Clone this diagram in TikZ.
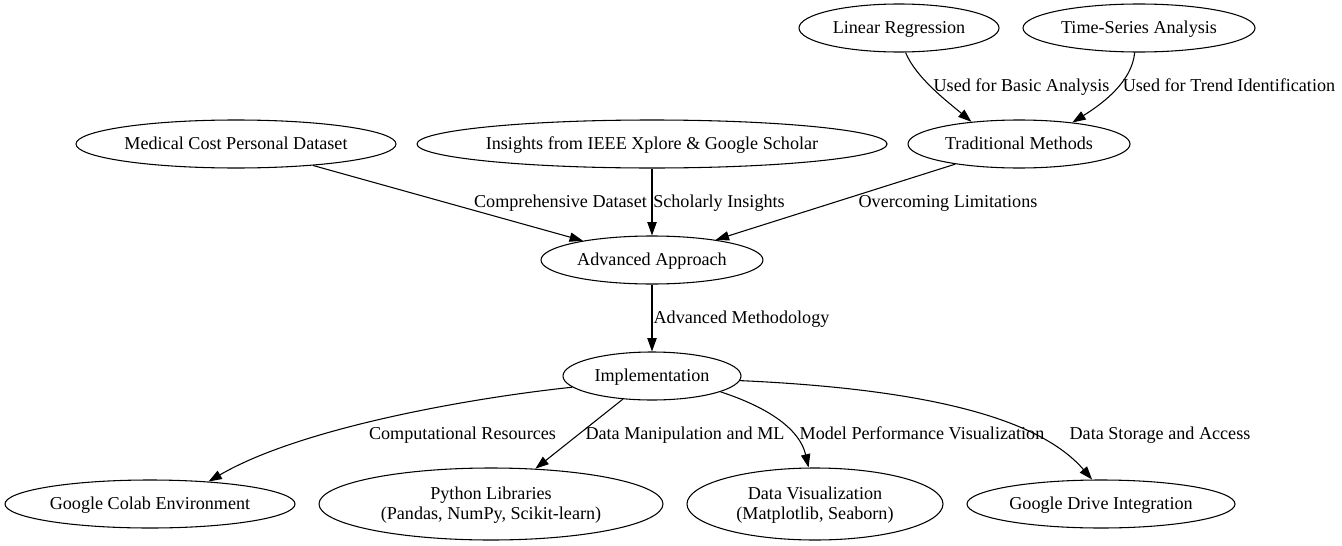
\documentclass[tikz,border=0pt]{standalone}
\usepackage{fontspec}
\setmainfont{Liberation Serif}
\usetikzlibrary{positioning, arrows.meta, shapes.geometric}

\begin{document}
\begin{tikzpicture}[
    % GLOBAL CFG
    x=0.75pt, y=0.75pt,
    font=\fontsize{13.6}{15}\selectfont,
    >={Triangle[length=10pt,width=7pt]},
    % Styles
    topic/.style={% For the ellipses
        ellipse,
        draw,
        line width=0.8pt,
        inner sep=0pt,
        text height=10.25pt,
        text depth=2.25pt,
        minimum height=36pt,
        align=center,
        },
    twoline/.style={% For ellipses with two lines
        topic,
        text height=25.25pt,
        minimum height=54pt,
        },
    edgelabel/.style={% Texts on the links
        inner sep=0pt,
        text height=10.25pt,
        text depth=2.25pt,
        },
    link/.style={% Links between topics
        ->,
        line width=0.8pt,
        },
    ]

    \path[use as bounding box] (0,0) rectangle (1342,-546);

    % Top row
    \node [topic, minimum width=150pt] (lin) at (899,-28) {Linear Regression};
    \node [topic, minimum width=174pt] (tsa) at (1139,-28) {Time-Series Analysis};

    % Sources
    \node [topic, minimum width=240pt] (med) at (236,-144) {Medical Cost Personal Dataset};
    \node [topic, minimum width=348pt] (ins) at (652,-144) {Insights from IEEE Xplore \& Google Scholar};
    \node [topic, minimum width=166.5pt] (trad) at (1019,-144) {Traditional Methods};

    % Middle
    \node [topic, minimum width=166.5pt] (adv) at (652,-260) {Advanced Approach};
    \node [topic, minimum width=133.5pt] (impl) at (652,-376) {Implementation};

    % Tools
    \node [topic, minimum width=217.5pt] (colab) at (150,-504) {Google Colab Environment};
    \node [twoline, minimum width=258pt] (py) at (491,-504) {Python Libraries\\(Pandas, NumPy, Scikit-learn)};
    \node [twoline, minimum width=192pt] (viz) at (815,-504) {Data Visualization\\(Matplotlib, Seaborn)};
    \node [topic, minimum width=201pt] (drive) at (1101,-504) {Google Drive Integration};

    % Links
    \draw [link] (lin.-75) .. controls (916,-78) and (948,-102) .. (trad.155);
    \draw [link] (tsa.-100) .. controls (1132,-82) and (1102,-104) .. (trad.22);
    \draw [link] (med) -- (adv);
    \draw [link] (ins) -- (adv);
    \draw [link] (trad) -- (adv);
    \draw [link] (adv) -- (impl);
    \draw [link] (impl.188) .. controls (470,-398) and (300,-428) .. (colab.21);
    \draw [link] (impl) -- (py);
    \draw [link] (impl.-13) .. controls (770,-408) and (800,-430) .. (viz.100);
    \draw [link] (impl.-3) .. controls (950,-390) and (1045,-425) .. (drive.110);

    % Link labels
    \node [edgelabel] (l-basic) at (1021.5,-86) {Used for Basic Analysis};
    \node [edgelabel] (l-trend) at (1229,-86) {Used for Trend Identification};
    \node [edgelabel] (l-data) at (560.5,-202) {Comprehensive Dataset};
    \node [edgelabel] (l-schol) at (719,-202) {Scholarly Insights};
    \node [edgelabel] (l-limit) at (948,-202) {Overcoming Limitations};
    \node [edgelabel] (l-method) at (741.5,-318) {Advanced Methodology};
    \node [edgelabel] (l-comp) at (462.5,-434) {Computational Resources};
    \node [edgelabel] (l-ml) at (685,-434) {Data Manipulation and ML};
    \node [edgelabel] (l-perf) at (922,-434) {Model Performance Visualization};
    \node [edgelabel] (l-store) at (1160,-434) {Data Storage and Access};

\end{tikzpicture}
\end{document}
